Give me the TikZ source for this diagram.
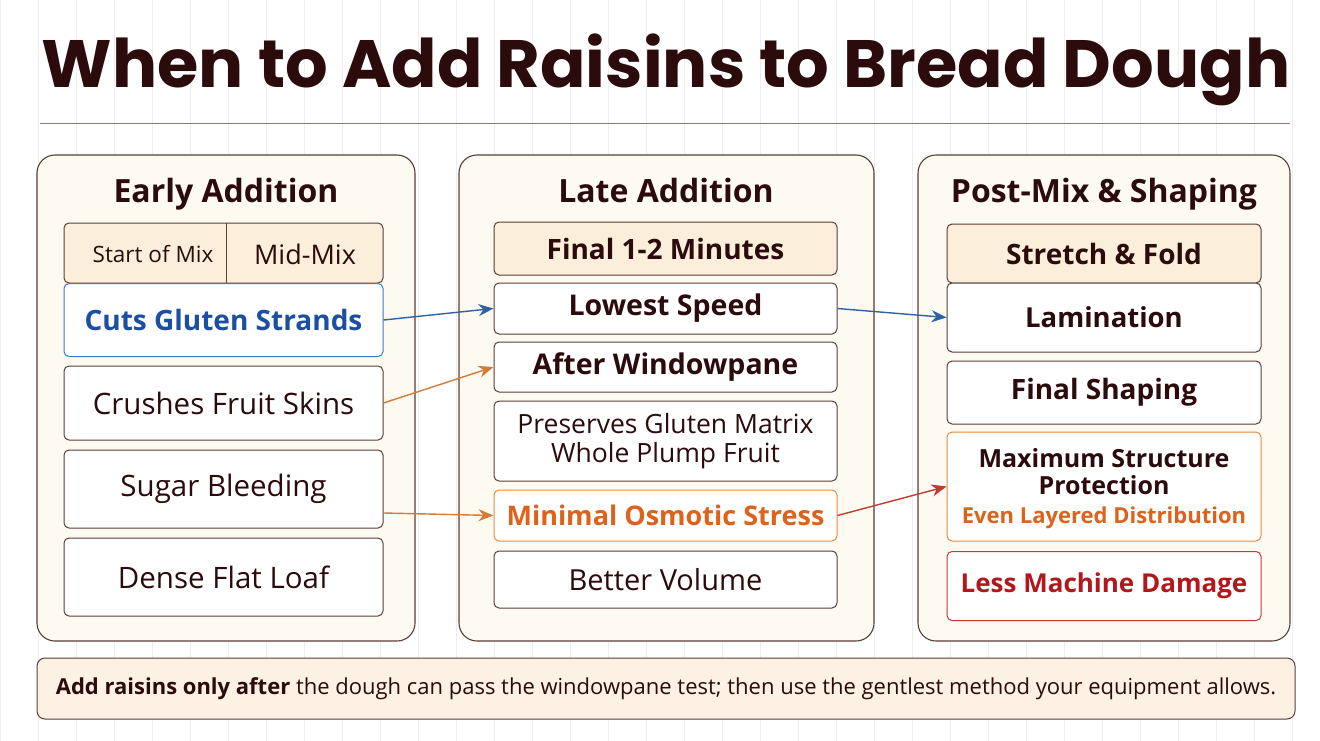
\documentclass[tikz,border=0pt]{standalone}
\usepackage{fontspec}
\setmainfont{Open Sans}
\newfontfamily\titlefont{Poppins}
\usetikzlibrary{arrows.meta}
\definecolor{ink}{HTML}{2B0B0B}
\definecolor{edge}{HTML}{5A3D38}
\definecolor{panel}{HTML}{FDFAF2}
\definecolor{wheat}{HTML}{FBEEDB}
\definecolor{gridc}{HTML}{F1EDEA}
\definecolor{bluet}{HTML}{1C4FA3}
\definecolor{blueb}{HTML}{3C79C9}
\definecolor{oranget}{HTML}{DD621B}
\definecolor{orangeb}{HTML}{E98A3C}
\definecolor{redt}{HTML}{B3161B}
\definecolor{redb}{HTML}{C23A30}
\newcommand{\fs}[1]{\fontsize{#1}{#1}\selectfont}

\begin{document}
\begin{tikzpicture}[x=1pt,y=-1pt,
    col/.style={draw=edge,fill=panel,line width=1.1pt,rounded corners=18},
    hd/.style={text=ink,font=\fs{32}\bfseries,anchor=base},
    cell/.style={draw=edge,fill=white,line width=1pt,rounded corners=5,
      text=ink,inner sep=0pt,align=center},
    tag/.style={cell,fill=wheat},
    arw/.style={line width=1.4pt,-{Stealth[length=15pt,width=12pt]}} ]
  \useasboundingbox (0,0) rectangle (1320,741);
  \fill[white] (0,0) rectangle (1320,741);
  \draw[gridc,line width=0.6pt,step=38] (0,0) grid (1320,741);
  % title
  \node[text=ink,font=\titlefont\fs{67}\bfseries] (title) at (666,70) {When to Add Raisins to Bread Dough};
  \draw[edge!70,line width=1pt] (40,124) -- (1290,124);
  % panels
  \draw[col] (37,155) rectangle (415,641);
  \draw[col] (459,155) rectangle (874,641);
  \draw[col] (918,155) rectangle (1290,641);
  \node[hd] (early) at (226,202) {Early Addition};
  \node[hd] (late) at (666,202) {Late Addition};
  \node[hd] (post) at (1104,202) {Post-Mix \& Shaping};
  % early column
  \node[tag,minimum width=319,minimum height=60] (startmix) at (223.5,253) {};
  \draw[edge,line width=1pt] (226,223) -- (226,283);
  \node[text=ink,font=\fs{22.5}] (start) at (153,254) {Start of Mix};
  \node[text=ink,font=\fs{27}] (midmix) at (305,254) {Mid-Mix};
  \node[cell,draw=blueb,text=bluet,minimum width=319,minimum height=73,font=\fs{28}\bfseries] (cuts) at (223.5,320) {Cuts Gluten Strands};
  \node[cell,minimum width=319,minimum height=74,font=\fs{29.5}] (crush) at (223.5,403) {Crushes Fruit Skins};
  \node[cell,minimum width=319,minimum height=78,font=\fs{29.5}] (sugar) at (223.5,489) {Sugar Bleeding};
  \node[cell,minimum width=319,minimum height=78,font=\fs{29.5}] (dense) at (223.5,577) {Dense Flat Loaf};
  % late column
  \node[tag,minimum width=343,minimum height=53,font=\fs{28}\bfseries] (final) at (665.5,248.5) {Final 1-2 Minutes};
  \node[cell,minimum width=343,minimum height=51,font=\fs{28.5}\bfseries] (lowest) at (665.5,308.5) {Lowest Speed};
  \node[cell,minimum width=343,minimum height=50,font=\fs{28.5}\bfseries] (after) at (665.5,367) {After Windowpane};
  \node[cell,minimum width=343,minimum height=80,font=\fs{26.5}] (preserve) at (665.5,441) {Preserves Gluten Matrix\\[3pt]Whole Plump Fruit};
  \node[cell,draw=orangeb,text=oranget,minimum width=343,minimum height=51,font=\fs{27}\bfseries] (osmotic) at (665.5,515.5) {Minimal Osmotic Stress};
  \node[cell,minimum width=343,minimum height=57,font=\fs{29}] (volume) at (665.5,579.5) {Better Volume};
  % post column
  \node[tag,minimum width=314,minimum height=59,font=\fs{28}\bfseries] (stretch) at (1104,253.5) {Stretch \& Fold};
  \node[cell,minimum width=314,minimum height=69,font=\fs{27.5}\bfseries] (lamin) at (1104,317.5) {Lamination};
  \node[cell,minimum width=314,minimum height=63,font=\fs{28}\bfseries] (shaping) at (1104,392.5) {Final Shaping};
  \node[cell,draw=orangeb,minimum width=314,minimum height=109] (maxim) at (1104,486.5) {};
  \node[text=ink,align=center,font=\fs{25}\bfseries,inner sep=0pt] (protect) at (1104,472) {Maximum Structure\\[2pt]Protection};
  \node[text=oranget,font=\fs{22}\bfseries,inner sep=0pt] (layered) at (1104,518) {Even Layered Distribution};
  \node[cell,draw=redb,text=redt,minimum width=314,minimum height=69,font=\fs{26}\bfseries] (damage) at (1104,586) {Less Machine Damage};
  % connectors
  \draw[arw,blueb!80!black] (cuts.east) -- (lowest.west);
  \draw[arw,orangeb!90!black] (crush.east) -- (after.west);
  \draw[arw,orangeb!90!black] (sugar.east|-513,513) -- (osmotic.west);
  \draw[arw,blueb!80!black] (lowest.east) -- (lamin.west);
  \draw[arw,redb] (osmotic.east) -- (maxim.west);
  % note
  \node[draw=edge,fill=wheat!80,line width=1pt,rounded corners=8,minimum width=1258,minimum height=61,
    text=ink,font=\fs{22}] (note) at (666,688.5) {\textbf{Add raisins only after} the dough can pass the windowpane test; then use the gentlest method your equipment allows.};
\end{tikzpicture}
\end{document}
